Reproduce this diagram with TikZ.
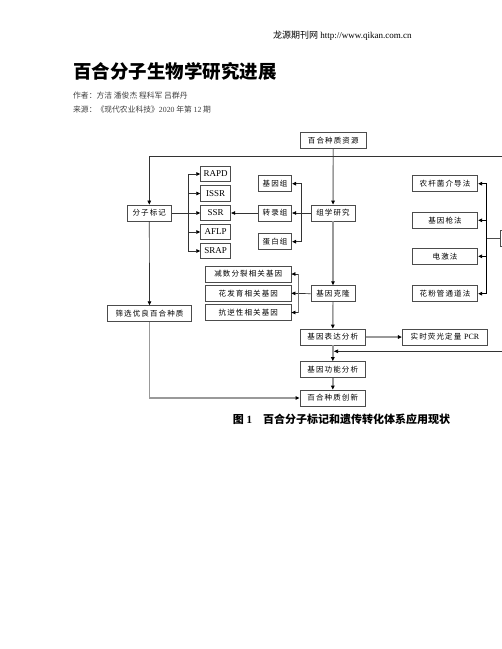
\documentclass[tikz,border=0pt]{standalone}
\usepackage{fontspec}
\setmainfont{Liberation Serif}
\newfontfamily\cjk{Noto Sans CJK SC}
\newfontfamily\cjkls[LetterSpace=15]{Noto Sans CJK SC}
\usetikzlibrary{arrows.meta}
\tikzset{
  bx/.style={draw=black!70, line width=0.9pt, inner sep=0pt, minimum height=16pt,
    font=\cjkls\fontsize{7.5}{8}\selectfont, anchor=center},
  lbx/.style={bx, minimum height=15.5pt, font=\rmfamily\fontsize{9}{10}\selectfont},
  trunk/.style={draw=black!40, line width=1.4pt},
  thinln/.style={draw=black!80, line width=0.7pt},
  darkln/.style={draw=black, line width=1pt},
  arr/.style={-{Triangle[length=4pt,width=3.6pt,color=black,fill=black]}},
  txt/.style={inner sep=0pt, anchor=west}
}
\begin{document}
\begin{tikzpicture}[x=1pt,y=-1pt]
\useasboundingbox (0,0) rectangle (502,649);

% header
\node[txt, font=\fontsize{9}{10}\selectfont] (hd) at (273,36) {{\cjk 龙源期刊网} http://www.qikan.com.cn};
\node[txt, font=\cjk\bfseries\fontsize{18.5}{20}\selectfont] (ti) at (73,71.5) {百合分子生物学研究进展};
\node[txt, font=\cjk\fontsize{7.8}{9}\selectfont, text=black!75] (au) at (73,96) {作者：方洁 潘俊杰 程科军 吕群丹};
\node[txt, font=\cjk\fontsize{7.8}{9}\selectfont, text=black!75] (so) at (73,110) {来源：《现代农业科技》{\rmfamily 2020} 年第 {\rmfamily 12} 期};

% boxes
\node[bx, minimum width=65.3pt] (src) at (333.3,140.7) {百合种质资源};
\node[bx, minimum width=44pt] (mk) at (149.3,213) {分子标记};
\node[lbx, minimum width=30pt] (rapd) at (215.7,174) {RAPD};
\node[lbx, minimum width=30pt] (issr) at (215.7,193.5) {ISSR};
\node[lbx, minimum width=30pt] (ssr) at (215.7,213) {SSR};
\node[lbx, minimum width=30pt] (aflp) at (215.7,232) {AFLP};
\node[lbx, minimum width=30pt] (srap) at (215.7,251) {SRAP};
\node[bx, minimum width=33.4pt] (g1) at (275,183.7) {基因组};
\node[bx, minimum width=33.4pt] (g2) at (275,213) {转录组};
\node[bx, minimum width=33.4pt] (g3) at (275,241.7) {蛋白组};
\node[bx, minimum width=44pt] (om) at (333,213) {组学研究};
\node[bx, minimum width=85.3pt] (c1) at (248.3,274) {减数分裂相关基因};
\node[bx, minimum width=85.3pt] (c2) at (248.3,293.3) {花发育相关基因};
\node[bx, minimum width=85.3pt] (c3) at (248.3,312.5) {抗逆性相关基因};
\node[bx, minimum width=44pt] (cl) at (333,293.7) {基因克隆};
\node[bx, minimum width=84.4pt] (sc) at (149.5,313.7) {筛选优良百合种质};
\node[bx, minimum width=65.7pt] (ex) at (332.8,337) {基因表达分析};
\node[bx, minimum width=85.4pt] (pcr) at (445,337) {实时荧光定量 {\rmfamily\fontsize{8}{9}\selectfont PCR}};
\node[bx, minimum width=65.7pt] (fn) at (332.8,369.5) {基因功能分析};
\node[bx, minimum width=65.7pt] (inn) at (332.8,398) {百合种质创新};
\node[bx, minimum width=65.4pt] (t1) at (445,183.7) {农杆菌介导法};
\node[bx, minimum width=65.4pt] (t2) at (445,220.3) {基因枪法};
\node[bx, minimum width=65.4pt] (t3) at (445,256.3) {电激法};
\node[bx, minimum width=65.4pt] (t4) at (445,293.7) {花粉管通道法};
\node[bx, minimum width=30pt, anchor=west] (tr) at (500,238) {};

% caption
\node[inner sep=0pt, font=\cjk\bfseries\fontsize{11}{12}\selectfont] (cap) at (341.5,419.5) {图 {\rmfamily\bfseries 1}\quad 百合分子标记和遗传转化体系应用现状};

% trunk
\draw[trunk, arr] (src) -- (om);
\draw[trunk, arr] (om) -- (cl);
\draw[trunk, arr] (cl) -- (ex);
\draw[trunk, arr] (ex) -- (fn);
\draw[trunk, arr] (fn) -- (inn);

% top line to molecular markers
\coordinate (tl) at (149.3,156);
\coordinate (tre) at (506,156);
\draw[thinln, arr] (tre) -- (tl) -- (mk.north);
\draw[thinln, arr] (mk) -- (sc);
\draw[trunk, arr] (sc.south) |- (inn.west);

% marker bracket
\coordinate (mb) at (188.3,213);
\draw[thinln, arr] (mk.east) -- (ssr.west);
\draw[thinln] (rapd.west -| mb) -- (srap.west -| mb);
\foreach \n in {rapd,issr,aflp,srap} \draw[thinln, arr] (\n.west -| mb) -- (\n.west);
\draw[thinln, arr] (g2.west) -- (ssr.east);

% omics bracket
\coordinate (ob) at (301.7,213);
\draw[thinln, arr] (om.west) -- (g2.east);
\draw[thinln] (g1.east -| ob) -- (g3.east -| ob);
\foreach \n in {g1,g3} \draw[thinln, arr] (\n.east -| ob) -- (\n.east);

% cloning bracket
\coordinate (cb) at (298.3,293.3);
\draw[thinln, arr] (cl.west) -- (c2.east);
\draw[thinln, draw=black!55] (c1.east -| cb) -- (c3.east -| cb);
\foreach \n in {c1,c3} \draw[thinln, arr] (\n.east -| cb) -- (\n.east);

% transformation bracket
\coordinate (tb) at (486.7,238);
\draw[darkln] (t1.east -| tb) -- (t4.east -| tb);
\foreach \n in {t1,t2,t3,t4} \draw[darkln, arr] (\n.east -| tb) -- (\n.east);
\draw[darkln, draw=black!70] (tb) -- (tr.west);

% expression
\draw[trunk, arr] (ex) -- (pcr);
\coordinate (rb) at (506,351.3);
\coordinate (re) at (334,351.3);
\draw[thinln, arr] (rb) -- (re);
\end{tikzpicture}
\end{document}
